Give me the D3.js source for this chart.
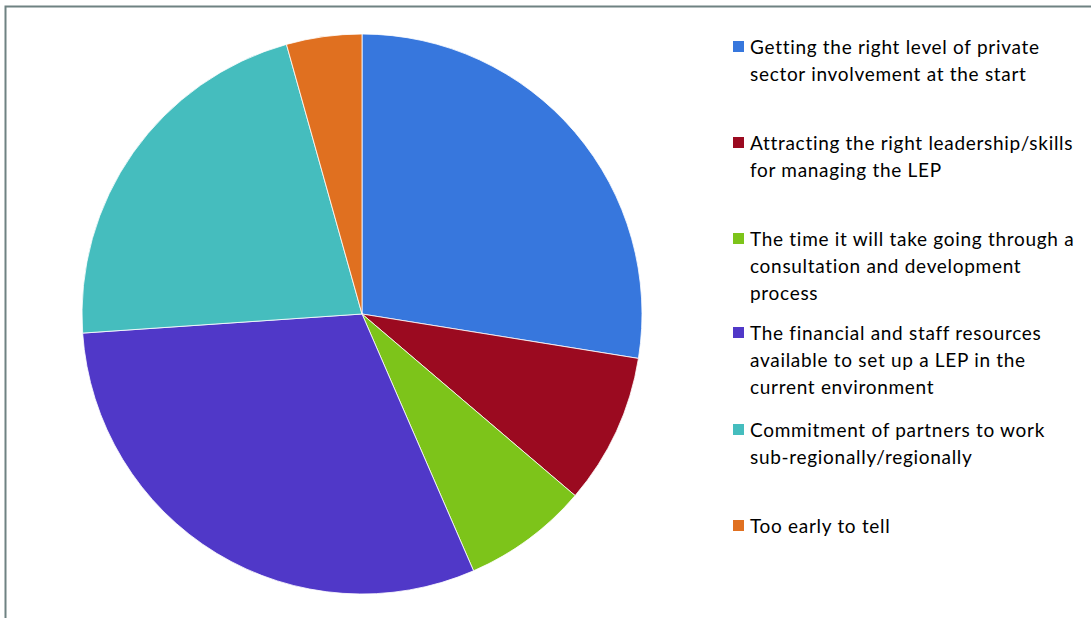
<!DOCTYPE html>
<html>
<head>
<meta charset="utf-8">
<script src="https://cdn.jsdelivr.net/npm/d3@7"></script>
<style>
  html, body { margin: 0; padding: 0; background: #fff; }
  svg { display: block; }
</style>
</head>
<body>
<svg id="chart" width="1091" height="618"></svg>
<script>
// Survey responses: main challenge in setting up a LEP
const categories = [
  "Getting the right level of private sector involvement at the start",
  "Attracting the right leadership/skills for managing the LEP",
  "The time it will take going through a consultation and development process",
  "The financial and staff resources available to set up a LEP in the current environment",
  "Commitment of partners to work sub-regionally/regionally",
  "Too early to tell"
];
const legendLines = [
  ["Getting the right level of private", "sector involvement at the start"],
  ["Attracting the right leadership/skills", "for managing the LEP"],
  ["The time it will take going through a", "consultation and development", "process"],
  ["The financial and staff resources", "available to set up a LEP in the", "current environment"],
  ["Commitment of partners to work", "sub-regionally/regionally"],
  ["Too early to tell"]
];
const responses = [19, 6, 5, 21, 15, 3];
const colors = ["#3777DD", "#9B0A20", "#7DC41A", "#5038C8", "#45BDBE", "#E07020"];

const svg = d3.select("#chart");

// outer frame
svg.append("rect")
  .attr("x", 5.5).attr("y", 6.5)
  .attr("width", 1200).attr("height", 700)
  .attr("fill", "none")
  .attr("stroke", "#6f8282")
  .attr("stroke-width", 2);

const cx = 362, cy = 314, r = 280;

const pie = d3.pie().sort(null).value(d => d)(responses);
const arc = d3.arc().innerRadius(0).outerRadius(r);
const color = d3.scaleOrdinal().domain(d3.range(categories.length)).range(colors);

svg.append("g")
  .attr("transform", `translate(${cx},${cy})`)
  .selectAll("path")
  .data(pie)
  .join("path")
  .attr("d", arc)
  .attr("fill", (d, i) => color(i))
  .attr("stroke", "#fff")
  .attr("stroke-width", 0.8);

// legend
const legendY = [47, 143, 239, 333, 430, 526];
const lineH = 27;
const legend = svg.append("g")
  .attr("font-family", "Lato, 'Open Sans', sans-serif")
  .attr("font-size", 19)
  .attr("letter-spacing", 0.7)
  .attr("fill", "#000");

legendLines.forEach((lines, i) => {
  const g = legend.append("g");
  g.append("rect")
    .attr("x", 733).attr("y", legendY[i] - 6)
    .attr("width", 11).attr("height", 11)
    .attr("fill", color(i));
  lines.forEach((t, j) => {
    g.append("text")
      .attr("x", 750)
      .attr("y", legendY[i] + j * lineH)
      .attr("dy", "0.35em")
      .text(t);
  });
});
</script>
</body>
</html>
